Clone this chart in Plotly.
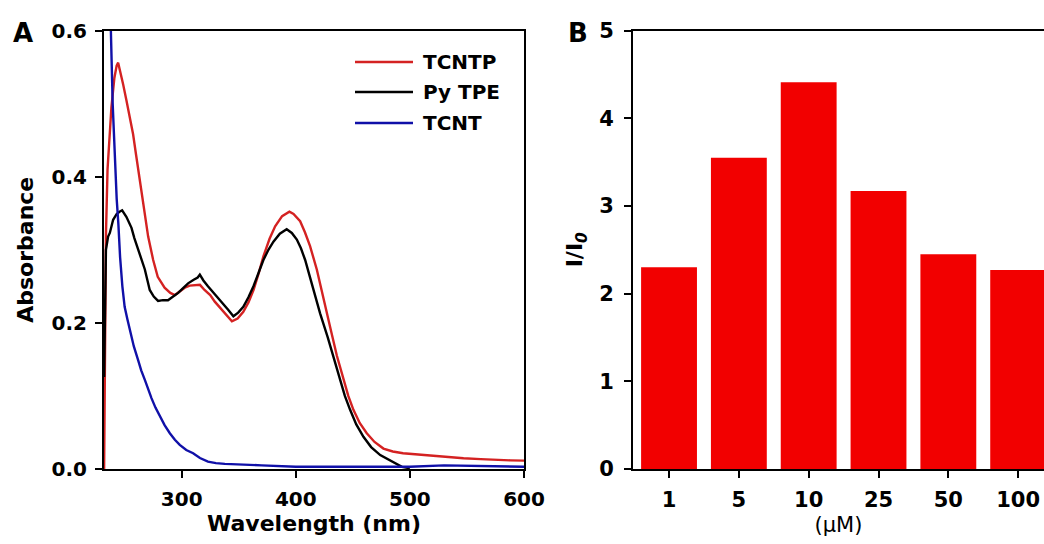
import plotly.graph_objects as go

# ---------------- data ----------------
series_names = ["TCNTP", "Py TPE", "TCNT"]
series_colors = ["#D42222", "#000000", "#1010A8"]

wl_tcntp = [232.0, 232.6, 233.6, 235.0, 236.7, 238.4, 241.0, 243.0, 244.3, 246.5, 248.7, 251.5,
            254.5, 257.4, 260.0, 262.4, 266.0, 270.6, 275.0, 279.0, 285.0, 290.0, 294.0, 298.0,
            302.7, 307.0, 311.5, 316.0, 320.0, 325.0, 329.0, 334.0, 339.0, 344.0, 349.0, 354.0,
            358.5, 363.0, 367.5, 371.6, 377.0, 381.9, 388.0, 394.4, 398.0, 403.8, 408.0, 412.5,
            418.4, 422.0, 425.7, 431.0, 436.0, 441.7, 446.0, 450.5, 456.0, 462.2, 469.0, 476.8,
            485.0, 494.0, 505.0, 518.0, 532.0, 547.0, 562.0, 576.0, 588.0, 600.0]
abs_tcntp = [0.0, 0.15, 0.32, 0.41, 0.46, 0.495, 0.535, 0.552, 0.556, 0.543, 0.526, 0.505,
             0.483, 0.458, 0.43, 0.403, 0.364, 0.318, 0.286, 0.263, 0.248, 0.241, 0.238, 0.243,
             0.248, 0.251, 0.252, 0.252, 0.245, 0.238, 0.229, 0.220, 0.211, 0.202, 0.206, 0.215,
             0.228, 0.245, 0.268, 0.291, 0.315, 0.332, 0.346, 0.352, 0.349, 0.339, 0.324, 0.305,
             0.273, 0.248, 0.222, 0.188, 0.155, 0.122, 0.100, 0.081, 0.063, 0.049, 0.037, 0.028,
             0.024, 0.0215, 0.020, 0.018, 0.016, 0.0147, 0.0135, 0.0123, 0.0118, 0.0114]

wl_pytpe = [232.0, 232.8, 233.6, 235.5, 237.0, 239.9, 243.0, 245.5, 247.8, 251.5, 256.0, 258.5,
            261.8, 264.7, 267.7, 270.0, 272.0, 275.5, 279.3, 283.5, 288.0, 292.5, 296.9, 301.0,
            305.6, 310.5, 314.0, 315.9, 319.0, 323.0, 328.8, 334.8, 340.7, 345.3, 349.5, 354.0,
            358.5, 362.9, 367.0, 371.6, 376.0, 380.4, 386.0, 392.0, 396.5, 400.9, 404.5, 408.2,
            411.8, 415.4, 421.3, 428.0, 433.5, 438.8, 443.0, 447.6, 453.0, 459.3, 466.0, 474.0,
            484.0, 493.0, 500.0]
abs_pytpe = [0.126, 0.22, 0.30, 0.318, 0.323, 0.341, 0.349, 0.352, 0.354, 0.345, 0.330, 0.316,
             0.300, 0.288, 0.273, 0.258, 0.245, 0.236, 0.230, 0.231, 0.231, 0.236, 0.241, 0.247,
             0.254, 0.259, 0.262, 0.266, 0.258, 0.250, 0.240, 0.229, 0.218, 0.209, 0.214, 0.222,
             0.235, 0.250, 0.268, 0.286, 0.300, 0.311, 0.322, 0.328, 0.323, 0.314, 0.302, 0.286,
             0.266, 0.245, 0.213, 0.180, 0.150, 0.122, 0.100, 0.081, 0.061, 0.044, 0.030, 0.019,
             0.010, 0.003, 0.001]

wl_tcnt = [232.0, 235.0, 237.9, 239.5, 241.4, 243.0, 244.5, 246.0, 248.0, 250.0, 252.4, 254.5,
           258.0, 261.8, 264.5, 267.7, 270.5, 273.5, 277.0, 280.8, 285.0, 289.6, 294.0, 298.3,
           304.0, 310.0, 316.0, 323.0, 330.0, 337.8, 350.0, 370.0, 400.0, 450.0, 500.0, 530.0,
           560.0, 600.0]
abs_tcnt = [0.95, 0.75, 0.601, 0.50, 0.42, 0.37, 0.335, 0.29, 0.25, 0.222, 0.205, 0.19,
            0.168, 0.149, 0.135, 0.122, 0.109, 0.097, 0.084, 0.072, 0.060, 0.049, 0.040, 0.033,
            0.026, 0.0215, 0.015, 0.010, 0.008, 0.007, 0.006, 0.005, 0.003, 0.0025, 0.003, 0.005,
            0.004, 0.003]

conc_labels = ["1", "5", "10", "25", "50", "100"]
ratio_values = [2.30, 3.55, 4.41, 3.17, 2.45, 2.27]
bar_color = "#F20000"

xtick_a = [300, 400, 500, 600]
ytick_a = [0.0, 0.2, 0.4, 0.6]
ytick_b = [0, 1, 2, 3, 4, 5]

# ---------------- figure ----------------
W, H = 1044, 544
FONT = "DejaVu Sans"


def px(x):
    return x / W


def py(y):
    return 1 - y / H


fig = go.Figure()
for wl, ab, name, col in zip([wl_tcntp, wl_pytpe, wl_tcnt],
                             [abs_tcntp, abs_pytpe, abs_tcnt],
                             series_names, series_colors):
    fig.add_trace(go.Scatter(x=wl, y=ab, mode="lines", name=name,
                             line=dict(color=col, width=2.4),
                             xaxis="x", yaxis="y", showlegend=False))

fig.add_trace(go.Bar(x=conc_labels, y=ratio_values, marker=dict(color=bar_color, line=dict(width=0)),
                     width=0.8, xaxis="x2", yaxis="y2", showlegend=False))

ydom = [py(469), py(30.5)]
tickfont = dict(family=FONT, size=20, color="black", weight="bold")
tickfont_b = dict(family=FONT, size=21, color="black", weight="bold")
axis_common = dict(showline=True, linewidth=2, linecolor="black", ticks="outside",
                   ticklen=7, tickwidth=2, tickcolor="black", showgrid=False,
                   zeroline=False, automargin=False)

fig.update_layout(
    width=W, height=H, template="none",
    margin=dict(l=0, r=0, t=0, b=0),
    paper_bgcolor="white", plot_bgcolor="white",
    xaxis=dict(domain=[px(104), px(524)], range=[231.9, 600], tickvals=xtick_a,
               mirror=True, anchor="y", tickfont=tickfont, ticklabelstandoff=4,
               title=dict(text="Wavelength (nm)", standoff=5,
                          font=dict(family=FONT, size=22, color="black", weight="bold")),
               **axis_common),
    yaxis=dict(domain=ydom, range=[0, 0.6], tickvals=ytick_a, tickformat=".1f",
               mirror=True, anchor="x", tickfont=tickfont, ticklabelstandoff=4,
               title=dict(text="Absorbance", standoff=12,
                          font=dict(family=FONT, size=22, color="black", weight="bold")),
               **axis_common),
    xaxis2=dict(domain=[px(633), 1.0], type="category", range=[-0.516, 5.37],
                mirror=True, anchor="y2", tickfont=tickfont_b, ticklabelstandoff=4,
                title=dict(text="(μM)", standoff=6,
                           font=dict(family=FONT, size=21, color="black")),
                **axis_common),
    yaxis2=dict(domain=ydom, range=[0, 5], tickvals=ytick_b, mirror=False, anchor="x2",
                tickfont=tickfont_b, ticklabelstandoff=6,
                title=dict(text="I/I<sub><i>0</i></sub>", standoff=10,
                           font=dict(family=FONT, size=22, color="black", weight="bold")),
                **axis_common),
)

# legend drawn by hand (panel A)
leg_rows = [62, 92, 123]
for name, col, yy in zip(series_names, series_colors, leg_rows):
    fig.add_shape(type="line", xref="paper", yref="paper",
                  x0=px(355), x1=px(413), y0=py(yy), y1=py(yy),
                  line=dict(color=col, width=2.5))
    fig.add_annotation(xref="paper", yref="paper", x=px(421), y=py(yy),
                       xanchor="left", yanchor="middle", showarrow=False, text=name,
                       font=dict(family=FONT, size=20, color="black", weight="bold"))

# panel letters
for letter, xx in zip(["A", "B"], [23, 578]):
    fig.add_annotation(xref="paper", yref="paper", x=px(xx), y=py(33),
                       xanchor="center", yanchor="middle", showarrow=False, text=letter,
                       font=dict(family=FONT, size=26, color="black", weight="bold"))

fig.write_html("out.html", config={"displayModeBar": False},
               post_script="document.body.style.margin='0';document.body.style.overflow='hidden';")
